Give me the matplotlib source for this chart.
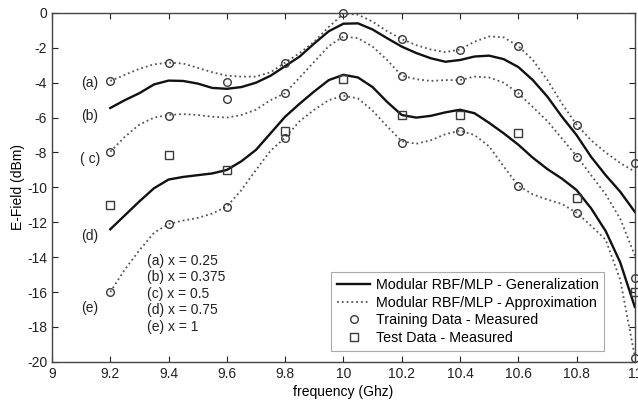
import matplotlib
matplotlib.use("Agg")
import matplotlib.pyplot as plt

# frequency grid the model curves were read on (GHz)
freq_curve = [9.20, 9.25, 9.30, 9.35, 9.40, 9.45, 9.50, 9.55, 9.60, 9.65, 9.70, 9.75,
              9.80, 9.85, 9.90, 9.95, 10.00, 10.05, 10.10, 10.15, 10.20, 10.25, 10.30,
              10.35, 10.40, 10.45, 10.50, 10.55, 10.60, 10.65, 10.70, 10.75, 10.80,
              10.85, 10.90, 10.95, 11.00]

# Modular RBF/MLP approximation curves (dotted): (a), (c), (e)
approx_a = [-3.9, -3.55, -3.2, -2.95, -2.85, -2.9, -3.15, -3.4, -3.6, -3.65, -3.65, -3.4,
            -2.85, -2.3, -1.65, -0.8, -0.05, -0.1, -0.5, -1.05, -1.5, -1.85, -2.1,
            -2.25, -2.1, -1.65, -1.35, -1.4, -1.9, -2.7, -3.85, -5.2, -6.4,
            -7.3, -8.0, -8.6, -9.1]
approx_c = [-7.95, -7.1, -6.4, -6.0, -5.85, -5.8, -5.85, -5.95, -6.0, -5.85, -5.55, -5.0,
            -4.6, -3.7, -2.8, -1.9, -1.35, -1.45, -1.93, -2.7, -3.6, -3.8, -3.9,
            -3.85, -3.85, -3.65, -3.7, -4.0, -4.6, -5.4, -6.2, -7.2, -8.2,
            -9.3, -10.4, -11.8, -13.9]
approx_e = [-16.0, -14.7, -13.6, -12.6, -12.1, -11.9, -11.75, -11.5, -11.1, -10.15, -9.0, -7.9,
            -7.15, -6.2, -5.55, -5.0, -4.75, -4.9, -5.6, -6.5, -7.35, -7.5, -7.3,
            -6.95, -6.75, -7.0, -7.65, -8.8, -9.9, -10.4, -10.7, -10.95, -11.45,
            -12.2, -13.0, -15.3, -19.7]

# Modular RBF/MLP generalization curves (solid): (b), (d)
gen_b = [-5.45, -5.0, -4.6, -4.1, -3.88, -3.9, -4.05, -4.3, -4.35, -4.25, -4.0, -3.6,
         -3.05, -2.5, -1.75, -1.05, -0.62, -0.6, -0.95, -1.45, -1.93, -2.3, -2.6,
         -2.8, -2.7, -2.5, -2.45, -2.65, -3.1, -3.85, -4.8, -5.95, -7.0,
         -8.25, -9.3, -10.25, -11.4]
gen_d = [-12.4, -11.6, -10.8, -10.05, -9.55, -9.4, -9.3, -9.2, -9.0, -8.5, -7.85, -6.9,
         -5.95, -5.2, -4.5, -3.85, -3.55, -3.7, -4.25, -5.1, -5.85, -6.0, -5.9,
         -5.7, -5.55, -5.75, -6.3, -6.9, -7.55, -8.3, -8.95, -9.5, -10.15,
         -11.2, -12.5, -14.3, -16.85]

# measured points
freq_meas = [9.2, 9.4, 9.6, 9.8, 10.0, 10.2, 10.4, 10.6, 10.8, 11.0]
train_a = [-3.9, -2.85, -3.95, -2.85, 0.0, -1.5, -2.1, -1.9, -6.4, -8.6]
train_c = [-7.95, -5.9, -4.95, -4.6, -1.35, -3.6, -3.85, -4.6, -8.25, -15.2]
train_e = [-16.0, -12.1, -11.1, -7.15, -4.75, -7.45, -6.75, -9.9, -11.45, -19.75]
test_meas = [-11.0, -8.15, -9.0, -6.75, -3.8, -5.85, -5.85, -6.9, -10.6, -16.0]

curve_labels = ["(a)", "(b)", "( c)", "(d)", "(e)"]
curve_label_y = [-4.0, -5.9, -8.4, -12.8, -16.9]
x_values_text = ["(a) x = 0.25", "(b) x = 0.375", "(c) x = 0.5", "(d) x = 0.75", "(e) x = 1"]

plt.rcParams["font.family"] = ["Liberation Sans", "DejaVu Sans"]
plt.rcParams["axes.unicode_minus"] = False

fig = plt.figure(figsize=(6.38, 4.03), dpi=100)
ax = fig.add_axes([0.0815, 0.102, 0.9135, 0.866])

dot_color = "#555555"
pt_color = "#3a3a3a"

ax.plot(freq_curve, gen_b, color="#111111", linewidth=1.7, label="Modular RBF/MLP - Generalization")
ax.plot(freq_curve, gen_d, color="#111111", linewidth=1.7)
ax.plot(freq_curve, approx_a, color=dot_color, linestyle=":", linewidth=1.3,
        label="Modular RBF/MLP - Approximation")
ax.plot(freq_curve, approx_c, color=dot_color, linestyle=":", linewidth=1.3)
ax.plot(freq_curve, approx_e, color=dot_color, linestyle=":", linewidth=1.3)

ax.plot(freq_meas, train_a, linestyle="none", marker="o", markersize=5.5, markerfacecolor="none",
        markeredgecolor=pt_color, markeredgewidth=1.0, label="Training Data - Measured", clip_on=False)
ax.plot(freq_meas, train_c, linestyle="none", marker="o", markersize=5.5, markerfacecolor="none",
        markeredgecolor=pt_color, markeredgewidth=1.0, clip_on=False)
ax.plot(freq_meas, train_e, linestyle="none", marker="o", markersize=5.5, markerfacecolor="none",
        markeredgecolor=pt_color, markeredgewidth=1.0, clip_on=False)
ax.plot(freq_meas, test_meas, linestyle="none", marker="s", markersize=5.5, markerfacecolor="none",
        markeredgecolor=pt_color, markeredgewidth=1.0, label="Test Data - Measured", clip_on=False)

# curve tags on the left
for lab, yv in zip(curve_labels, curve_label_y):
    ax.text(9.13, yv, lab, ha="center", va="center", fontsize=10, color="#222222")

for i, s in enumerate(x_values_text):
    ax.text(9.325, -14.2 - i * 0.95, s, ha="left", va="center", fontsize=10, color="#222222")

ax.set_xlim(9, 11)
ax.set_ylim(-20, 0)
ax.set_xticks([9, 9.2, 9.4, 9.6, 9.8, 10, 10.2, 10.4, 10.6, 10.8, 11])
ax.set_xticklabels(["9", "9.2", "9.4", "9.6", "9.8", "10", "10.2", "10.4", "10.6", "10.8", "11"])
ax.set_yticks(range(-20, 1, 2))
ax.tick_params(direction="in", top=True, right=True, labelsize=10, colors="#222222", length=4)
for sp in ax.spines.values():
    sp.set_color("#444444")
    sp.set_linewidth(1.0)

ax.set_xlabel("frequency (Ghz)", fontsize=10, labelpad=3)
ax.set_ylabel("E-Field (dBm)", fontsize=10, labelpad=1)

leg = ax.legend(loc="lower right", bbox_to_anchor=(0.96, 0.012), fontsize=10.3, fancybox=False,
                edgecolor="#aaaaaa", framealpha=1, handlelength=2.3, borderpad=0.4,
                labelspacing=0.25, handletextpad=0.4)
leg.get_frame().set_linewidth(0.8)

fig.savefig("out.png", dpi=100)
